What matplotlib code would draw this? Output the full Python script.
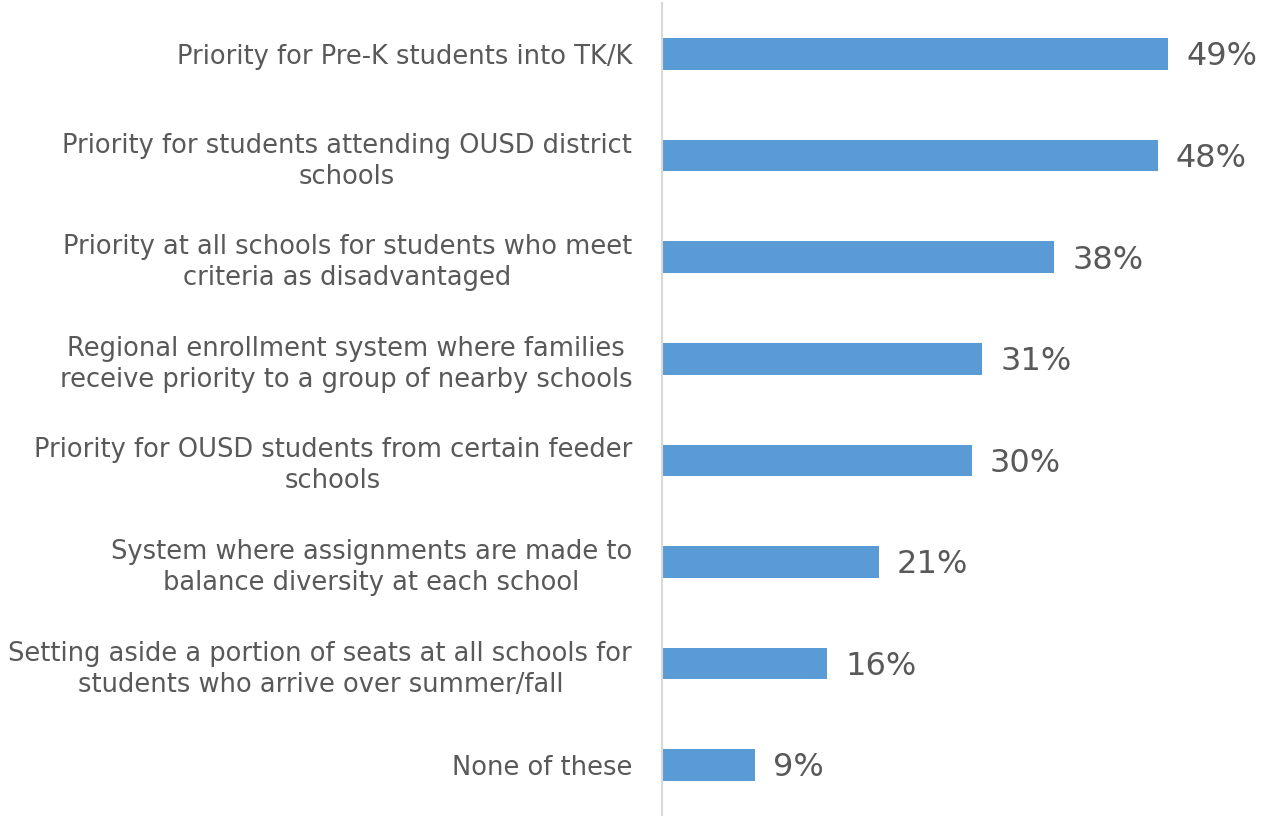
import matplotlib
matplotlib.use("Agg")
from matplotlib import pyplot as plt

labels = [
    "Priority for Pre-K students into TK/K",
    "Priority for students attending OUSD district\nschools",
    "Priority at all schools for students who meet\ncriteria as disadvantaged",
    "Regional enrollment system where families\nreceive priority to a group of nearby schools",
    "Priority for OUSD students from certain feeder\nschools",
    "System where assignments are made to\nbalance diversity at each school",
    "Setting aside a portion of seats at all schools for\nstudents who arrive over summer/fall",
    "None of these",
]
values = [49, 48, 38, 31, 30, 21, 16, 9]

BAR = "#5b9bd5"
TXT = "#595959"

plt.rcParams['font.family'] = ['DejaVu Sans']

fig = plt.figure(figsize=(12.62, 8.16), dpi=100)
ax = fig.add_axes([0.5246, 0.0, 0.4754, 0.996])

ypos = list(range(len(values)))
ax.barh(ypos, values, height=0.31, color=BAR, left=0)
ax.set_ylim(len(values) - 0.5, -0.5)
ax.set_xlim(0, 58.1)

for y, v in zip(ypos, values):
    ax.annotate(f"{v}%", xy=(v, y), xytext=(13, -2), textcoords='offset points',
                va='center', ha='left', fontsize=23, color=TXT)

ax.set_yticks(ypos)
ax.set_yticklabels(labels, fontsize=18.5, color=TXT, ha='right',
                   multialignment='center', linespacing=1.25)
ax.tick_params(axis='y', length=0, pad=21.5)
ax.set_xticks([])
for s in ['top', 'right', 'bottom']:
    ax.spines[s].set_visible(False)
ax.spines['left'].set_color('#d9d9d9')
ax.spines['left'].set_linewidth(1.5)

fig.savefig("out.png", dpi=100)
